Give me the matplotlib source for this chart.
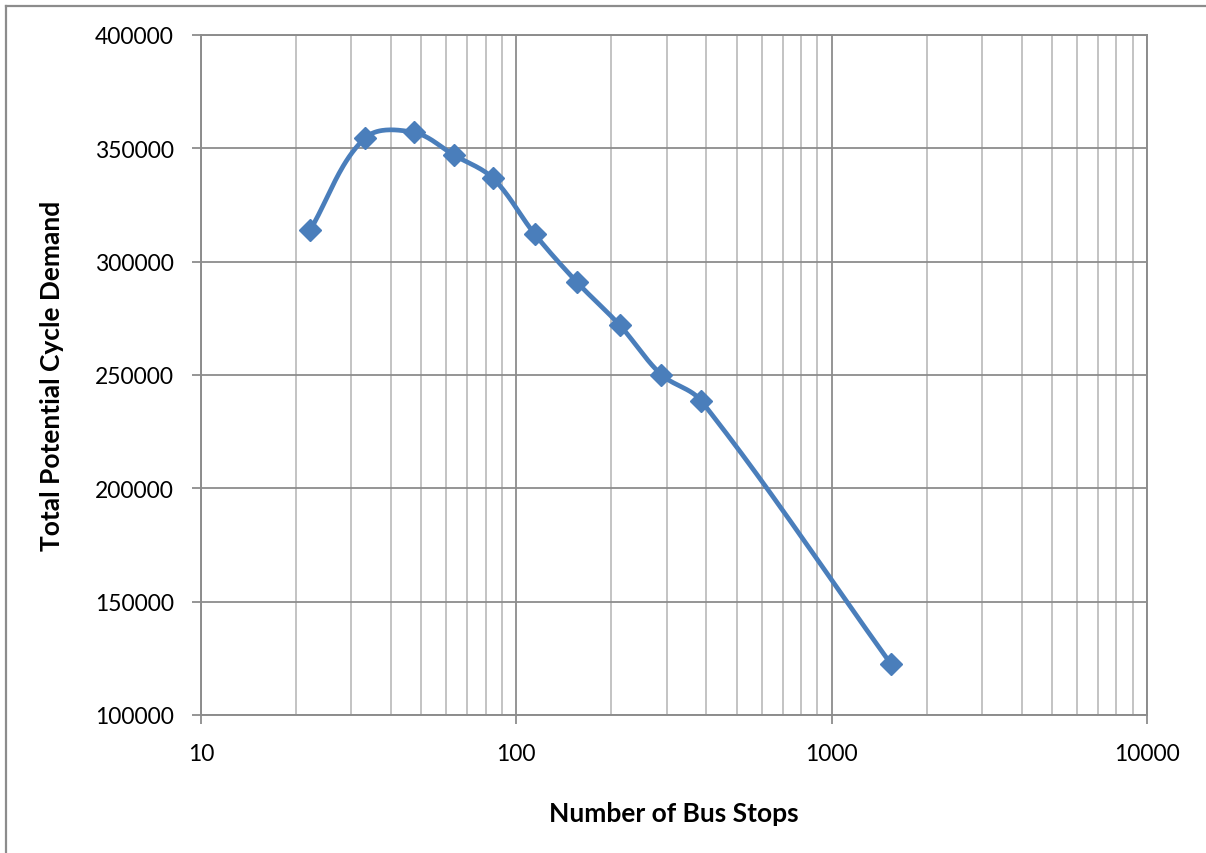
import numpy as np
import matplotlib
matplotlib.use("Agg")
import matplotlib.pyplot as plt
from matplotlib.lines import Line2D
from matplotlib.ticker import FixedLocator, NullFormatter, FixedFormatter

# ---- data ----
bus_stops = [22.2, 33.1, 47.4, 63.4, 84.3, 114.6, 155.8, 213, 288, 385, 1542]
demand = [314000, 354500, 357000, 347000, 336800, 312000, 290900, 271900, 250200, 238700, 122500]
x_ticks = [10, 100, 1000, 10000]
x_tick_labels = ["10", "100", "1000", "10000"]
y_ticks = [100000, 150000, 200000, 250000, 300000, 350000, 400000]
y_tick_labels = [str(v) for v in y_ticks]
x_label = "Number of Bus Stops"
y_label = "Total Potential Cycle Demand"

plt.rcParams['font.family'] = ['Lato', 'DejaVu Sans']

W, H = 1206, 854
fig = plt.figure(figsize=(W / 100, H / 100), dpi=100)
ax_l, ax_r, ax_t, ax_b = 201, 1147, 36, 716
ax = fig.add_axes([ax_l / W, 1 - ax_b / H, (ax_r - ax_l) / W, (ax_b - ax_t) / H])

ax.set_xscale('log')
ax.set_xlim(10, 10000)
ax.set_ylim(100000, 400000)

# smoothed line (Bezier smoothing in screen space, tangent scaled by segment length)
pw, ph = ax_r - ax_l, ax_b - ax_t
u = (np.log10(bus_stops) - 1) / 3 * pw
v = (np.array(demand) - 100000) / 300000 * ph
P = np.column_stack([u, v])
n = len(P)
tang = []
for i in range(n):
    a = P[i - 1] if i > 0 else P[i]
    b = P[i + 1] if i + 1 < n else P[i]
    d = b - a
    tang.append(d / np.linalg.norm(d))
curve = []
for i in range(n - 1):
    p1, p2 = P[i], P[i + 1]
    L = np.linalg.norm(p2 - p1)
    c1 = p1 + tang[i] * L / 3
    c2 = p2 - tang[i + 1] * L / 3
    t = np.linspace(0, 1, 40)[:, None]
    seg = (1 - t) ** 3 * p1 + 3 * (1 - t) ** 2 * t * c1 + 3 * (1 - t) * t ** 2 * c2 + t ** 3 * p2
    curve.append(seg if i == 0 else seg[1:])
curve = np.vstack(curve)
cx = 10 ** (1 + 3 * curve[:, 0] / pw)
cy = 100000 + curve[:, 1] * 300000 / ph

blue = '#4A7EBB'
ax.plot(cx, cy, color=blue, lw=3.4, solid_capstyle='round', zorder=3)
ax.plot(bus_stops, demand, linestyle='none', marker='D', markersize=11.5,
        color=blue, markeredgecolor=blue, zorder=4)

# grid
ax.xaxis.set_major_locator(FixedLocator(x_ticks))
ax.xaxis.set_major_formatter(FixedFormatter(x_tick_labels))
minor = [m * d for d in [10, 100, 1000] for m in range(2, 10)]
ax.xaxis.set_minor_locator(FixedLocator(minor))
ax.xaxis.set_minor_formatter(NullFormatter())
ax.yaxis.set_major_locator(FixedLocator(y_ticks))
ax.yaxis.set_major_formatter(FixedFormatter(y_tick_labels))

ax.grid(which='major', axis='both', color='#8C8C8C', lw=1.3, zorder=0)
ax.grid(which='minor', axis='x', color='#BEBEBE', lw=1.3, zorder=0)
ax.set_axisbelow(True)

for s in ax.spines.values():
    s.set_color('#8C8C8C')
    s.set_linewidth(1.4)

ax.tick_params(which='major', direction='out', length=6.5, width=1.3, color='#8C8C8C',
               labelsize=16.5, labelcolor='black')
ax.tick_params(axis='y', pad=13)
ax.tick_params(axis='x', pad=14)
ax.tick_params(which='minor', length=0)

ax.set_xlabel(x_label, fontsize=19, fontweight='bold', labelpad=26)
ax.set_ylabel(y_label, fontsize=19, fontweight='bold', labelpad=22)

# outer chart border (left and top visible)
fig.add_artist(Line2D([6 / W, 6 / W], [0, 1 - 7 / H], transform=fig.transFigure,
                      color='#8C8C8C', lw=1.6))
fig.add_artist(Line2D([6 / W, 1], [1 - 7 / H, 1 - 7 / H], transform=fig.transFigure,
                      color='#8C8C8C', lw=1.6))

fig.savefig('out.png', dpi=100)
